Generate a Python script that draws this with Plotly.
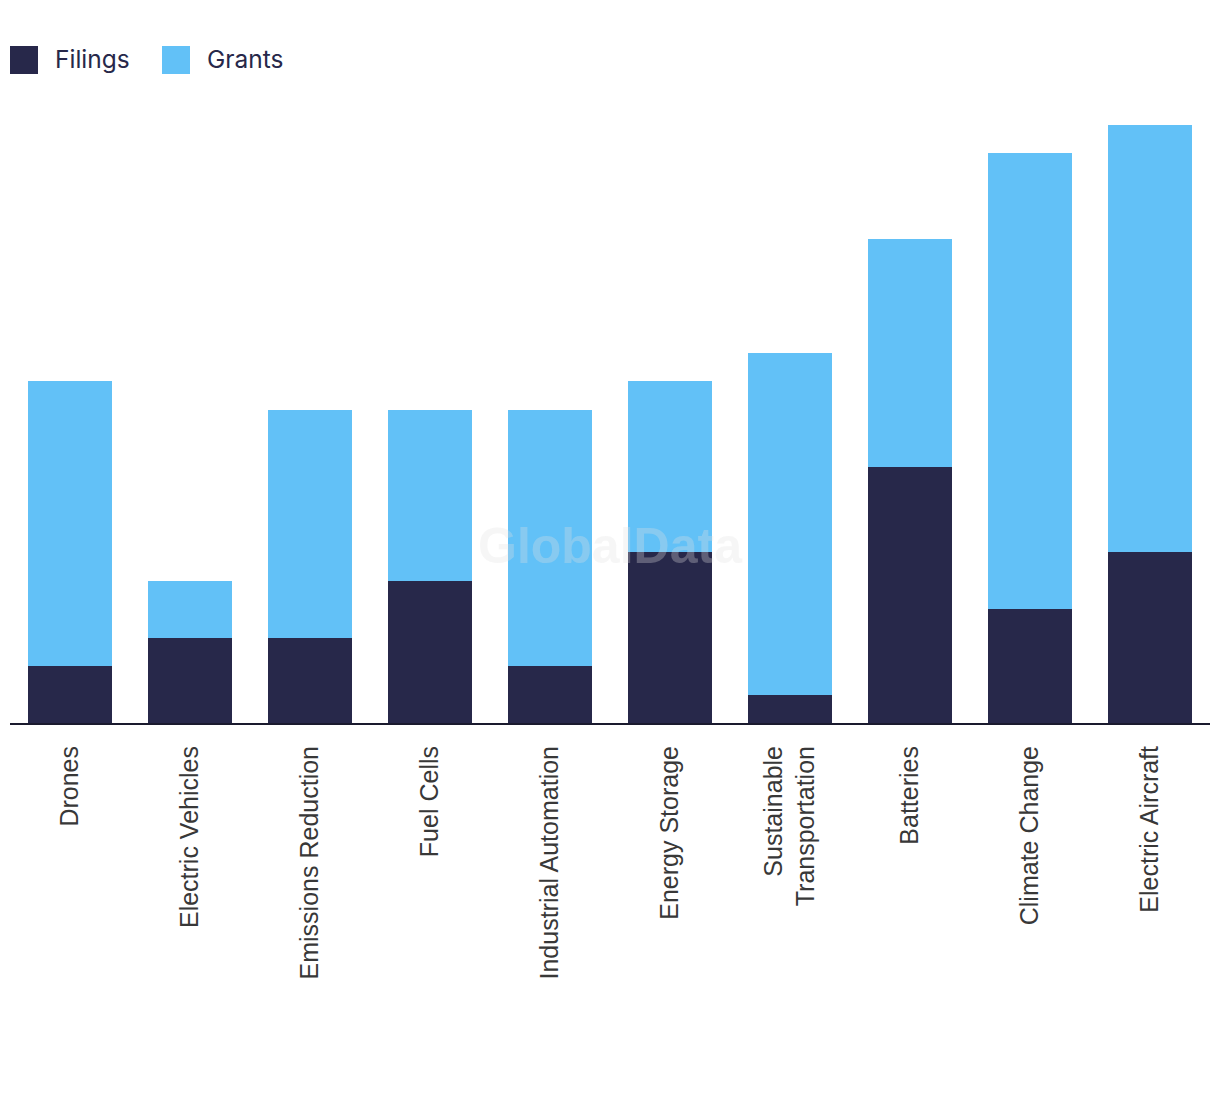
import plotly.graph_objects as go

categories = ["Drones", "Electric Vehicles", "Emissions Reduction", "Fuel Cells",
              "Industrial Automation", "Energy Storage", "Sustainable<br>Transportation",
              "Batteries", "Climate Change", "Electric Aircraft"]
filings = [2, 3, 3, 5, 2, 6, 1, 9, 4, 6]
grants = [10, 2, 8, 6, 9, 6, 12, 8, 16, 15]
series_names = ["Filings", "Grants"]
colors = ["#27284A", "#62C1F7"]

OFF = 8  # page body margin
W, H = 1212, 1086
ml, mr, mt, mb = 2, 10, 88, 371
PW, PH = W - ml - mr, H - mt - mb


def px(sx):
    return (sx - OFF - ml) / PW


def py(sy):
    return (H - mb - (sy - OFF)) / PH


fig = go.Figure()
fig.add_trace(go.Bar(x=categories, y=filings, name=series_names[0], marker_color=colors[0],
                     marker_line_width=0, showlegend=False))
fig.add_trace(go.Bar(x=categories, y=grants, name=series_names[1], marker_color=colors[1],
                     marker_line_width=0, showlegend=False))

# custom legend
legend_x = [10, 162]
for i, name in enumerate(series_names):
    x0 = legend_x[i]
    fig.add_shape(type="rect", xref="paper", yref="paper",
                  x0=px(x0), x1=px(x0 + 28), y0=py(74), y1=py(46),
                  fillcolor=colors[i], line_width=0)
    fig.add_annotation(xref="paper", yref="paper", x=px(x0 + 43), y=py(59),
                       text=name, showarrow=False, xanchor="left", yanchor="middle",
                       font=dict(family="Inter, Roboto, sans-serif", size=24.5, color="#27284A"))

# watermark
fig.add_annotation(xref="paper", yref="paper", x=0.5, y=py(576),
                   text="<b>GlobalData</b>", showarrow=False,
                   font=dict(family="Liberation Sans, Arial, sans-serif", size=50,
                             color="rgba(225,225,225,0.3)"))

fig.update_layout(
    barmode="stack",
    bargap=0.3,
    width=W, height=H,
    margin=dict(l=ml, r=mr, t=mt, b=mb),
    plot_bgcolor="white", paper_bgcolor="white",
    font=dict(family="Liberation Sans, Arial, sans-serif", size=25, color="#333333"),
)
fig.update_xaxes(tickangle=-90, showline=True, linecolor="#1a1a2e", linewidth=2,
                 ticks="", ticklabelstandoff=11, showgrid=False,
                 tickfont=dict(size=25, color="#383838"))
fig.update_yaxes(range=[0, 22], visible=False, showgrid=False)

fig.write_html("out.html")
